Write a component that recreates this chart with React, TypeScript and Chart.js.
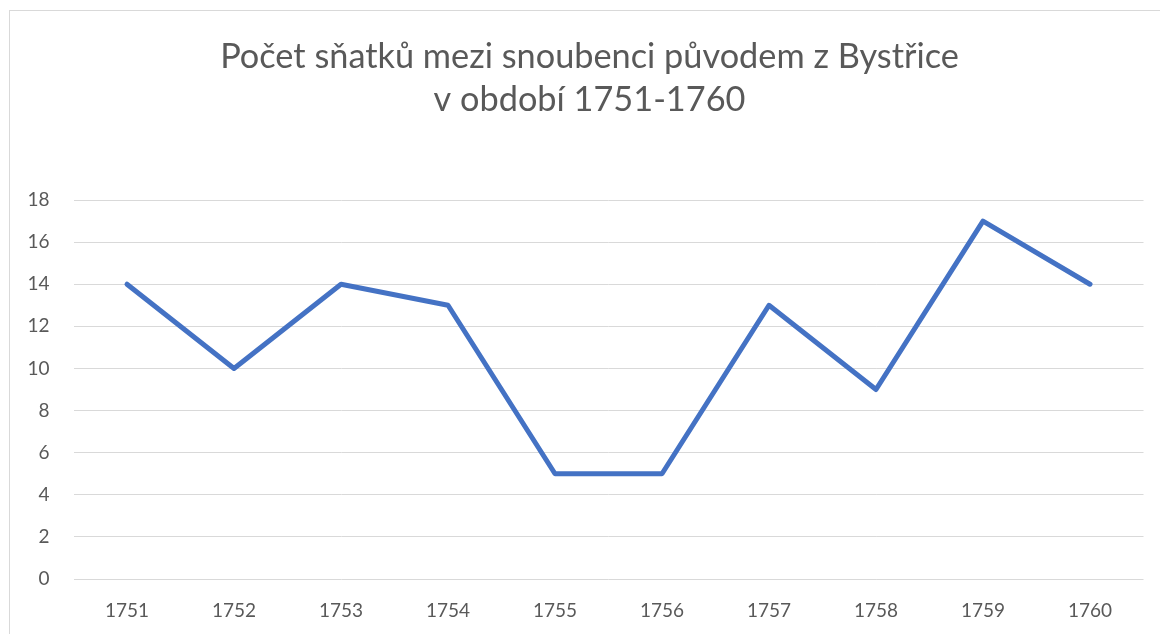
import React, { useEffect, useRef } from "react";
import { Chart, registerables } from "chart.js";

Chart.register(...registerables);

const titleLines = ["Počet sňatků mezi snoubenci původem z Bystřice", "v období 1751-1760"];
const years = ["1751", "1752", "1753", "1754", "1755", "1756", "1757", "1758", "1759", "1760"];
const marriages = [14, 10, 14, 13, 5, 5, 13, 9, 17, 14];
const yMin = 0;
const yMax = 18;
const yStep = 2;

const FONT = "Lato, 'Open Sans', sans-serif";
const TEXT = "#595959";

const titlePlugin = {
  id: "centeredTitle",
  afterDraw(chart: any) {
    const ctx = chart.ctx;
    ctx.save();
    ctx.font = `normal 34.3px ${FONT}`;
    ctx.fillStyle = TEXT;
    ctx.textAlign = "center";
    ctx.textBaseline = "middle";
    ctx.fillText(titleLines[0], 589.5, 57);
    ctx.fillText(titleLines[1], 589.5, 100);
    ctx.restore();
  },
};

export default function App() {
  const ref = useRef<HTMLCanvasElement | null>(null);
  useEffect(() => {
    if (!ref.current) return;
    const chart = new Chart(ref.current, {
      type: "line",
      data: {
        labels: years,
        datasets: [
          {
            data: marriages,
            borderColor: "#4472C4",
            backgroundColor: "#4472C4",
            borderWidth: 5,
            pointRadius: 0,
            tension: 0,
            borderJoinStyle: "round",
            borderCapStyle: "round",
          },
        ],
      },
      options: {
        animation: false,
        responsive: false,
        maintainAspectRatio: false,
        layout: { padding: { left: 0, right: 16.5, top: 200, bottom: 0 } },
        plugins: {
          legend: { display: false },
          tooltip: { enabled: false },
          title: { display: false },
        },
        scales: {
          x: {
            offset: true,
            grid: { display: false },
            border: { display: false },
            ticks: { color: TEXT, font: { family: FONT, size: 19 }, padding: 12, maxRotation: 0 },
            afterFit: (s: any) => {
              s.height = 55;
            },
          },
          y: {
            min: yMin,
            max: yMax,
            ticks: { stepSize: yStep, color: TEXT, font: { family: FONT, size: 19 }, padding: 24 },
            grid: { color: "#d9d9d9", lineWidth: 1, drawTicks: false },
            border: { display: false },
            afterFit: (s: any) => {
              s.width = 73.5;
            },
          },
        },
      },
      plugins: [titlePlugin],
    });
    return () => chart.destroy();
  }, []);
  return (
    <div style={{ position: "fixed", left: 0, top: 0, width: 1160, height: 634, background: "#fff", overflow: "hidden" }}>
      <div
        style={{
          position: "absolute",
          left: 9,
          top: 10,
          width: 2000,
          height: 2000,
          borderLeft: "1px solid #d9d9d9",
          borderTop: "1px solid #d9d9d9",
        }}
      />
      <canvas ref={ref} width={1160} height={634} style={{ position: "absolute", left: 0, top: 0 }} />
    </div>
  );
}
